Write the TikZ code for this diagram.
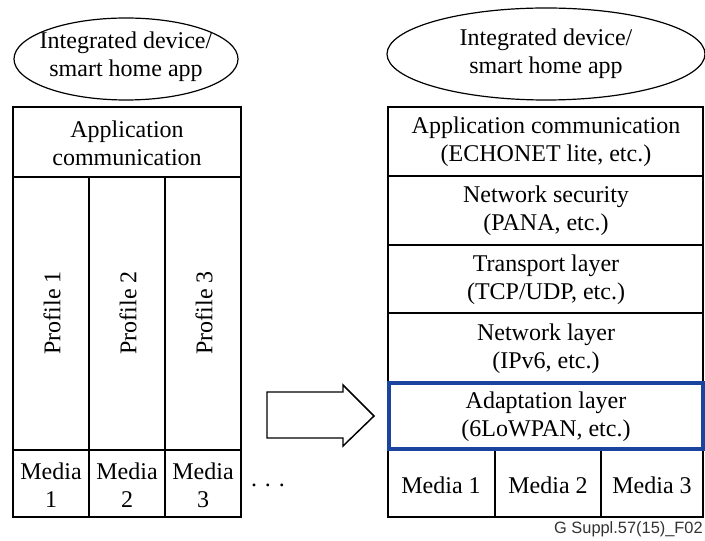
\documentclass[tikz,border=0pt]{standalone}
\usepackage{fontspec}
\setmainfont{Liberation Serif}
\newfontfamily\capfont{Liberation Sans}
\usetikzlibrary{shapes.geometric}
\definecolor{layerblue}{RGB}{26,68,158}
\definecolor{capgray}{RGB}{50,50,50}
\begin{document}
\begin{tikzpicture}[x=0.75pt,y=-0.75pt,
  frame/.style={draw,line width=1.1pt},
  lbl/.style={font=\fontsize{18}{21}\selectfont,align=center,inner sep=0pt},
  oval/.style={ellipse,draw,line width=0.9pt,inner sep=0pt},
  hilite/.style={draw=layerblue,line width=2.3pt},
  arrowshape/.style={draw,line width=1.1pt,line join=miter}]
\useasboundingbox (0,0) rectangle (705,541);
\clip (0,0) rectangle (705,541);

% ---------- left ----------
\node[oval,minimum width=168pt,minimum height=61.5pt] (lapp) at (126,59) {};
\node[lbl] (lapptxt) at (126,57) {Integrated device/\\smart home app};

\draw[frame] (13,107) rectangle (241,517);
\draw[frame] (13,177) -- (241,177);
\draw[frame] (13,450) -- (241,450);
\draw[frame] (89,177) -- (89,517);
\draw[frame] (165,177) -- (165,517);

\node[lbl] (lcomm) at (127,143) {Application\\communication};
\node[lbl,rotate=90] (p1) at (52,313) {Profile 1};
\node[lbl,rotate=90] (p2) at (128,313) {Profile 2};
\node[lbl,rotate=90] (p3) at (204,313) {Profile 3};
\node[lbl] (lm1) at (51,485) {Media\\1};
\node[lbl] (lm2) at (127,485) {Media\\2};
\node[lbl] (lm3) at (203,485) {Media\\3};
\node[lbl] (dots) at (268,485) {.\,\,.\,\,.};

% ---------- arrow ----------
\draw[arrowshape] (267,392) -- (343,392) -- (343,385) -- (374,416) -- (343,446) -- (343,438) -- (267,438) -- cycle;

% ---------- right ----------
\node[oval,minimum width=238.5pt,minimum height=69pt] (rapp) at (546,54) {};
\node[lbl] (rapptxt) at (546,54) {Integrated device/\\smart home app};

\draw[frame] (388,107) rectangle (703,517);
\draw[frame] (388,176) -- (703,176);
\draw[frame] (388,245) -- (703,245);
\draw[frame] (388,313) -- (703,313);
\draw[frame] (388,449) -- (703,449);
\draw[frame] (495,449) -- (495,517);
\draw[frame] (601,449) -- (601,517);
\draw[hilite] (389,383) rectangle (703,449);

\node[lbl] (rcomm) at (546,142) {Application communication\\(ECHONET lite, etc.)};
\node[lbl] (rsec) at (546,211) {Network security\\(PANA, etc.)};
\node[lbl] (rtrans) at (546,280) {Transport layer\\(TCP/UDP, etc.)};
\node[lbl] (rnet) at (546,349) {Network layer\\(IPv6, etc.)};
\node[lbl] (radapt) at (546,417) {Adaptation layer\\(6LoWPAN, etc.)};
\node[lbl] (rm1) at (441,485) {Media 1};
\node[lbl] (rm2) at (548,485) {Media 2};
\node[lbl] (rm3) at (652,485) {Media 3};

\node[anchor=base east,inner sep=0pt,text=capgray,font=\capfont\fontsize{12.3}{14}\selectfont] (cap) at (703,533) {G Suppl.57(15)\_F02};
\end{tikzpicture}
\end{document}
